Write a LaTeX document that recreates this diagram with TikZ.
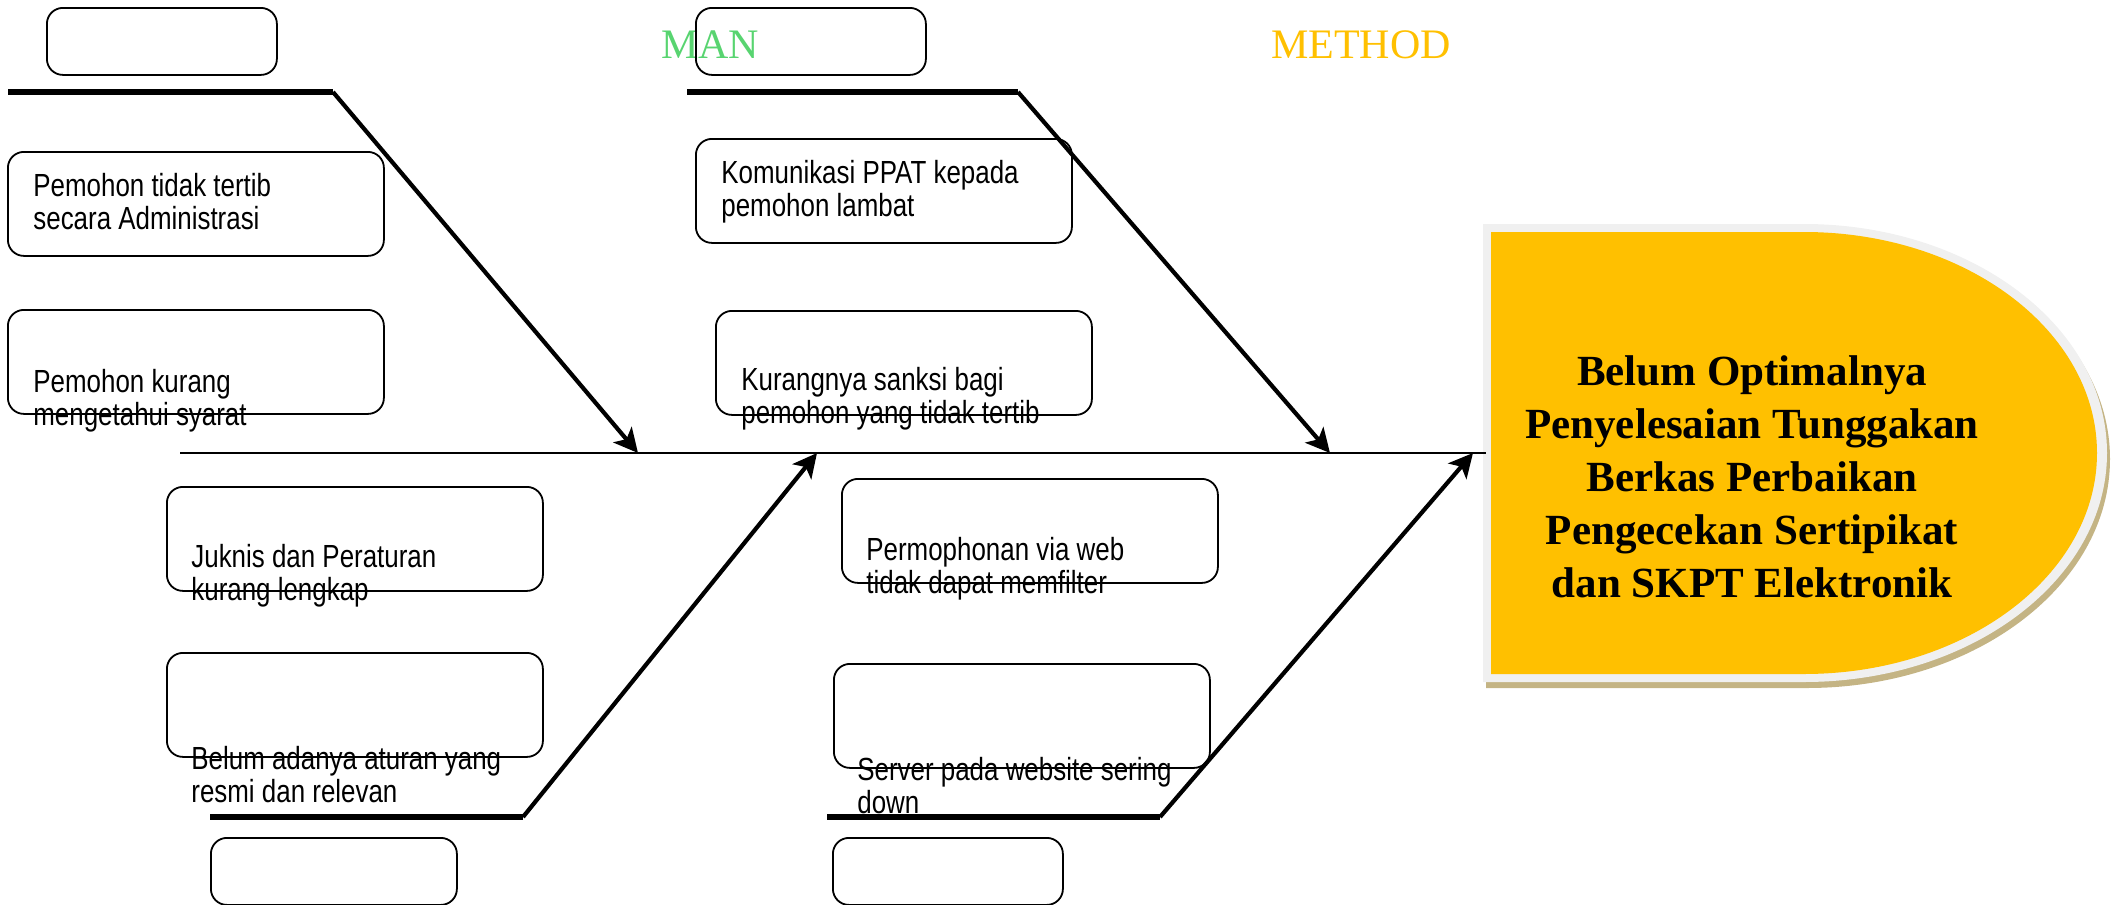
\documentclass[tikz,border=0pt]{standalone}
\usepackage{fontspec}
\setmainfont{Liberation Serif}
\newfontfamily\boxfont{Liberation Sans}[FakeStretch=0.81]
\usetikzlibrary{arrows.meta}
\definecolor{headyellow}{RGB}{255,192,0}
\definecolor{headrim}{RGB}{240,240,240}
\definecolor{headshade}{RGB}{196,180,132}
\definecolor{mangreen}{RGB}{88,212,112}
\definecolor{methodyellow}{RGB}{255,192,0}

\begin{document}
\begin{tikzpicture}[x=0.5pt,y=-0.5pt,>={Stealth[length=12pt,width=12pt,inset=3pt]},
  cause/.style={draw,rounded corners=8pt,line width=0.9pt,inner sep=0pt,anchor=north west,
    minimum width=188pt,minimum height=52pt},
  catbox/.style={cause,minimum width=115pt,minimum height=33.5pt},
  why/.style={font=\boxfont\fontsize{16pt}{16.5pt}\selectfont,align=left,anchor=base west,inner sep=0pt},
  rib/.style={line width=2.6pt},
  bone/.style={->,line width=2.1pt},
  catlabel/.style={font=\fontsize{21pt}{25pt}\selectfont,anchor=base,inner sep=0pt}]
\useasboundingbox (0,0) rectangle (2111,905);

\fill[headshade] (1486,230) -- (1807,230) arc[start angle=-90,end angle=90,x radius=303,y radius=229] -- (1486,688) -- cycle;
\fill[headrim] (1483,224) -- (1804,224) arc[start angle=-90,end angle=90,x radius=303,y radius=229] -- (1483,682) -- cycle;
\fill[headyellow] (1491,232) -- (1804,232) arc[start angle=-90,end angle=90,x radius=293,y radius=221] -- (1491,674) -- cycle;
\node[font=\bfseries\fontsize{21.5pt}{26.5pt}\selectfont,align=center,anchor=base,inner sep=0pt] (head) at (1752,597)
  {Belum Optimalnya\\Penyelesaian Tunggakan\\Berkas Perbaikan\\Pengecekan Sertipikat\\dan SKPT Elektronik};

\node[catlabel,text=mangreen] (man) at (710,58) {MAN};
\node[catlabel,text=methodyellow] (method) at (1361,58) {METHOD};

\node[catbox] (c1) at (46,7) {};
\node[catbox] (c2) at (695,7) {};
\node[catbox,minimum width=123pt] (c3) at (210,837) {};
\node[catbox] (c4) at (832,837) {};

\node[cause] (b1) at (7,151) {};
\node[cause] (b2) at (7,309) {};
\node[cause] (b3) at (695,138) {};
\node[cause] (b4) at (715,310) {};
\node[cause] (b5) at (166,486) {};
\node[cause] (b6) at (166,652) {};
\node[cause] (b7) at (841,478) {};
\node[cause] (b8) at (833,663) {};

\node[why] (t1) at (33,229) {Pemohon tidak tertib\\secara Administrasi};
\node[why] (t2) at (33,425) {Pemohon kurang\\mengetahui syarat};
\node[why] (t3) at (721,216) {Komunikasi PPAT kepada\\pemohon lambat};
\node[why] (t4) at (741,423) {Kurangnya sanksi bagi\\pemohon yang tidak tertib};
\node[why] (t5) at (191,600) {Juknis dan Peraturan\\kurang lengkap};
\node[why] (t6) at (191,802) {Belum adanya aturan yang\\resmi dan relevan};
\node[why] (t7) at (866,593) {Permophonan via web\\tidak dapat memfilter};
\node[why] (t8) at (857,813) {Server pada website sering\\down};

% tulang
\coordinate (tail) at (180,453);
\coordinate (mouth) at (1486,453);
\draw[line width=1pt] (tail) -- (mouth);

\coordinate (r1a) at (8,92);    \coordinate (r1b) at (333,92);   \coordinate (p1) at (638,453);
\coordinate (r2a) at (687,92);  \coordinate (r2b) at (1018,92);  \coordinate (p2) at (1330,453);
\coordinate (r3a) at (210,817); \coordinate (r3b) at (523,817);  \coordinate (p3) at (817,453);
\coordinate (r4a) at (827,817); \coordinate (r4b) at (1160,817); \coordinate (p4) at (1473,453);
\foreach \i in {1,...,4}{
  \draw[rib] (r\i a) -- (r\i b);
  \draw[bone] (r\i b) -- (p\i);
}
\end{tikzpicture}
\end{document}
